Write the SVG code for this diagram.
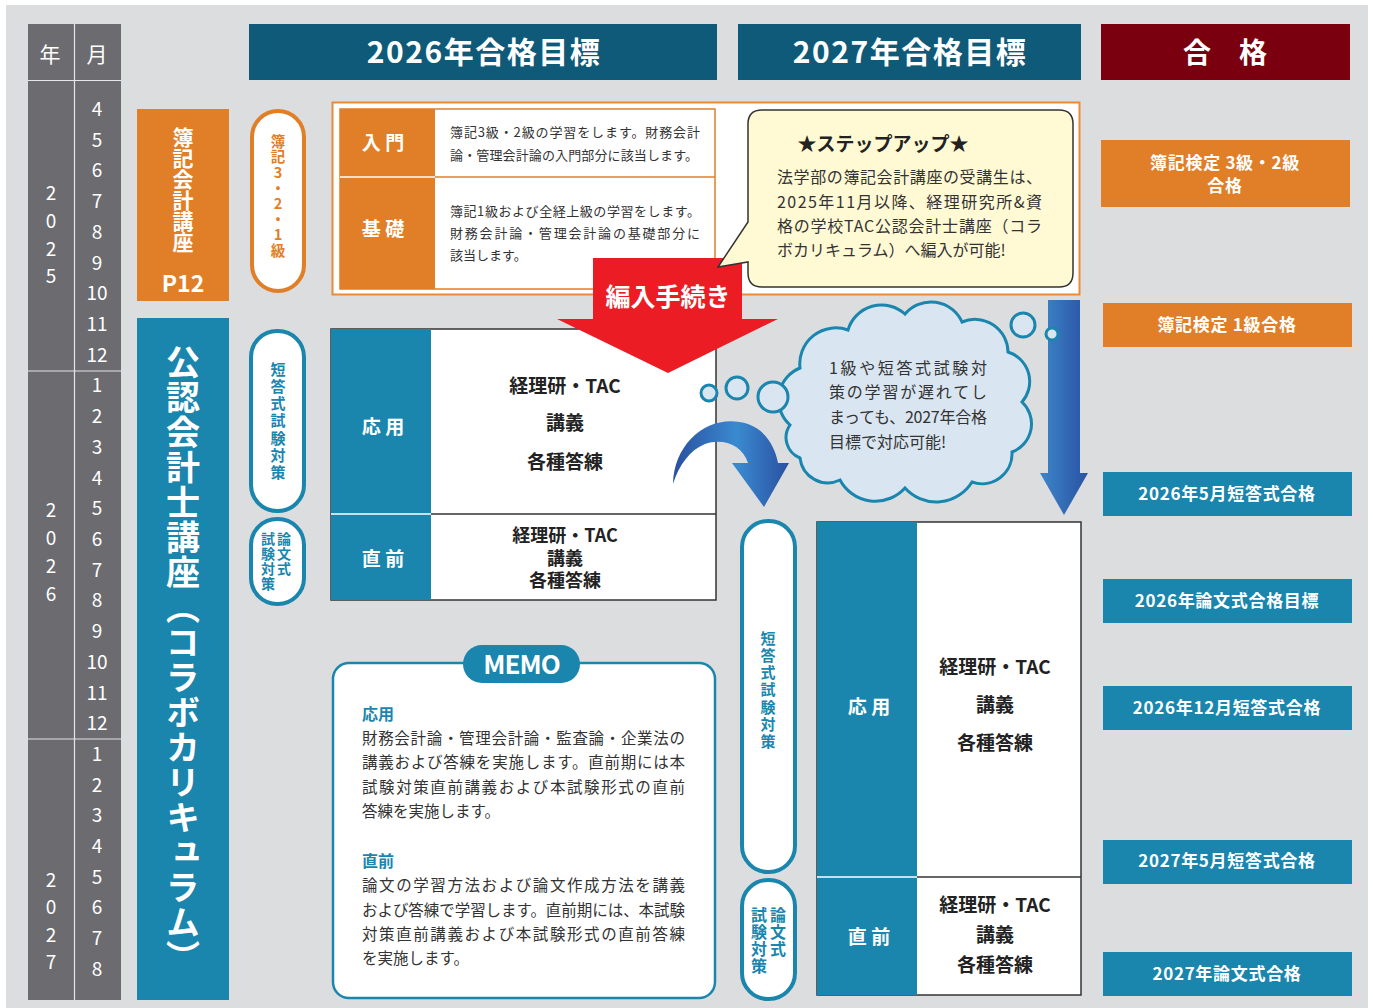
<svg xmlns="http://www.w3.org/2000/svg" width="1373" height="1008" viewBox="0 0 1373 1008">
<style>
text{font-family:"Noto Sans CJK JP","Noto Sans",sans-serif;}
.mo{fill:#fff;font-size:19px;text-anchor:middle}
.hdr{fill:#fff;font-weight:bold;font-size:30px;text-anchor:middle;letter-spacing:1.5px}
.res{fill:#fff;font-weight:bold;font-size:17px;text-anchor:middle;letter-spacing:0.7px}
.cell{fill:#222;font-weight:bold;font-size:19px;text-anchor:middle}
.lab{fill:#fff;font-weight:bold;font-size:19px;text-anchor:middle}
.vt{writing-mode:vertical-rl;text-orientation:upright}
.bt{fill:#333;font-size:16px}
.it{fill:#333;font-size:13px}
.mt{fill:#333;font-size:15.5px}
.blue{fill:#1a86ae}
.pillO{fill:#fff;stroke:#e07f27;stroke-width:4}
.pillB{fill:#fff;stroke:#1a86ae;stroke-width:4}
.pv{fill:#1a86ae;font-weight:bold;text-anchor:start}
.cellbox{fill:#fff;stroke:#333;stroke-width:1.5}
.cloud{fill:#d9e6f1;stroke:#1a86ae;stroke-width:3}
</style>
<defs>
<linearGradient id="gArrow" x1="0" y1="0" x2="1" y2="0">
<stop offset="0" stop-color="#3d86c8"/>
<stop offset="1" stop-color="#2a52a3"/>
</linearGradient>
<linearGradient id="gCurve" x1="0" y1="0" x2="1" y2="0">
<stop offset="0" stop-color="#2a4f9f"/>
<stop offset="0.55" stop-color="#3a8ad0"/>
<stop offset="1" stop-color="#2a50a1"/>
</linearGradient>
</defs>

<rect x="0" y="0" width="1373" height="1008" fill="#fff"/>
<rect x="6" y="5" width="1362" height="1003" fill="#dcdddf"/>

<g id="timeline">
<rect x="28" y="24" width="93" height="976" fill="#6b6b70"/>
<line x1="74.5" y1="24" x2="74.5" y2="1000" stroke="#e6e6e6" stroke-width="1.2"/>
<line x1="28" y1="80.5" x2="121" y2="80.5" stroke="#e6e6e6" stroke-width="1.2"/>
<line x1="28" y1="371" x2="121" y2="371" stroke="#e6e6e6" stroke-width="1.2"/>
<line x1="28" y1="739" x2="121" y2="739" stroke="#e6e6e6" stroke-width="1.2"/>
<text class="mo" x="50" y="62" style="font-size:21px">年</text>
<text class="mo" x="97" y="62" style="font-size:21px">月</text>
<text class="mo" x="51" y="200">2</text><text class="mo" x="51" y="228">0</text><text class="mo" x="51" y="256">2</text><text class="mo" x="51" y="283">5</text>
<text class="mo" x="51" y="517">2</text><text class="mo" x="51" y="545">0</text><text class="mo" x="51" y="573">2</text><text class="mo" x="51" y="601">6</text>
<text class="mo" x="51" y="887">2</text><text class="mo" x="51" y="914">0</text><text class="mo" x="51" y="942">2</text><text class="mo" x="51" y="969">7</text>
<text class="mo" x="97" y="116">4</text><text class="mo" x="97" y="147">5</text><text class="mo" x="97" y="177">6</text><text class="mo" x="97" y="208">7</text><text class="mo" x="97" y="239">8</text><text class="mo" x="97" y="270">9</text><text class="mo" x="97" y="300">10</text><text class="mo" x="97" y="331">11</text><text class="mo" x="97" y="362">12</text>
<text class="mo" x="97" y="392">1</text><text class="mo" x="97" y="423">2</text><text class="mo" x="97" y="454">3</text><text class="mo" x="97" y="485">4</text><text class="mo" x="97" y="515">5</text><text class="mo" x="97" y="546">6</text><text class="mo" x="97" y="577">7</text><text class="mo" x="97" y="607">8</text><text class="mo" x="97" y="638">9</text><text class="mo" x="97" y="669">10</text><text class="mo" x="97" y="700">11</text><text class="mo" x="97" y="730">12</text>
<text class="mo" x="97" y="761">1</text><text class="mo" x="97" y="792">2</text><text class="mo" x="97" y="822">3</text><text class="mo" x="97" y="853">4</text><text class="mo" x="97" y="884">5</text><text class="mo" x="97" y="914">6</text><text class="mo" x="97" y="945">7</text><text class="mo" x="97" y="976">8</text>
</g>

<g id="header-2026"><rect x="249" y="24" width="468" height="56" fill="#0e5a78"/><text class="hdr" x="484" y="63">2026年合格目標</text></g>
<g id="header-2027"><rect x="738" y="24" width="343" height="56" fill="#0e5a78"/><text class="hdr" x="910" y="63">2027年合格目標</text></g>
<g id="header-pass"><rect x="1101" y="24" width="249" height="56" fill="#7a0010"/><text class="hdr" x="1225" y="63" style="font-size:28px;letter-spacing:0">合　格</text></g>

<g id="boki-course">
<rect x="137" y="109" width="92" height="192" fill="#e07f27"/>
<text class="vt" x="183" y="127" fill="#fff" font-weight="bold" font-size="21">簿記会計講座</text>
<text x="183" y="292" fill="#fff" font-weight="bold" font-size="23" text-anchor="middle">P12</text>
</g>

<g id="cpa-course">
<rect x="137" y="318" width="92" height="682" fill="#1a86ae"/>
<text x="183" y="345" fill="#fff" font-weight="bold" font-size="34" style="writing-mode:vertical-rl" letter-spacing="1">公認会計士講座（コラボカリキュラム）</text>
</g>

<g id="pill-boki">
<rect class="pillO" x="252" y="111" width="52" height="180" rx="26"/>
<text class="vt" x="278" y="134" fill="#e07f27" font-weight="bold" font-size="14.5" letter-spacing="1.1">簿記3・2・1級</text>
</g>
<g id="pill-short-2026">
<rect class="pillB" x="251" y="331" width="53" height="180" rx="26"/>
<text class="vt pv" x="278" y="362" font-size="15" letter-spacing="2.1">短答式試験対策</text>
</g>
<g id="pill-essay-2026">
<rect class="pillB" x="251" y="519" width="53" height="85" rx="26"/>
<text class="vt pv" x="284" y="532" font-size="14" letter-spacing="1">論文式</text>
<text class="vt pv" x="268" y="532" font-size="14" letter-spacing="1">試験対策</text>
</g>
<g id="pill-short-2027">
<rect class="pillB" x="742" y="521" width="53" height="351" rx="26"/>
<text class="vt pv" x="768" y="631" font-size="15" letter-spacing="2.1">短答式試験対策</text>
</g>
<g id="pill-essay-2027">
<rect class="pillB" x="742" y="880" width="53" height="119" rx="26"/>
<text class="vt pv" x="778" y="907" font-size="16" letter-spacing="1">論文式</text>
<text class="vt pv" x="759" y="907" font-size="16" letter-spacing="1">試験対策</text>
</g>

<g id="intro-frame">
<rect x="332.5" y="102.5" width="747" height="192" fill="#fff" stroke="#e9893a" stroke-width="2"/>
<rect x="340" y="109" width="375" height="180" fill="#fff" stroke="#e07f27" stroke-width="1.5"/>
<rect x="340" y="109" width="95" height="180" fill="#e07f27"/>
<line x1="435" y1="177" x2="715" y2="177" stroke="#e07f27" stroke-width="1.5"/>
<line x1="340" y1="177" x2="435" y2="177" stroke="#fff" stroke-width="1.5"/>
<text class="lab" x="383" y="150" font-size="18">入 門</text>
<text class="lab" x="383" y="236" font-size="18">基 礎</text>
<text class="it" x="450" y="137" textLength="250">簿記3級・2級の学習をします。財務会計</text>
<text class="it" x="450" y="160" textLength="248">論・管理会計論の入門部分に該当します。</text>
<text class="it" x="450" y="216" textLength="250">簿記1級および全経上級の学習をします。</text>
<text class="it" x="450" y="238" textLength="250">財務会計論・管理会計論の基礎部分に</text>
<text class="it" x="450" y="260">該当します。</text>
</g>

<g id="apply-2026">
<rect class="cellbox" x="331" y="329" width="385" height="271"/>
<rect x="331" y="329" width="100" height="271" fill="#1a86ae"/>
<line x1="431" y1="514" x2="716" y2="514" stroke="#333" stroke-width="1.5"/>
<line x1="331" y1="514" x2="431" y2="514" stroke="#fff" stroke-width="1.5"/>
<text class="lab" x="383" y="434">応 用</text>
<text class="cell" x="565" y="393">経理研・TAC</text>
<text class="cell" x="565" y="430">講義</text>
<text class="cell" x="565" y="469">各種答練</text>
<text class="lab" x="383" y="566">直 前</text>
<text class="cell" x="565" y="542" style="font-size:18px">経理研・TAC</text>
<text class="cell" x="565" y="564.5" style="font-size:18px">講義</text>
<text class="cell" x="565" y="587" style="font-size:18px">各種答練</text>
</g>

<g id="apply-2027">
<rect class="cellbox" x="817" y="522" width="264" height="473"/>
<rect x="817" y="522" width="100" height="473" fill="#1a86ae"/>
<line x1="917" y1="877" x2="1081" y2="877" stroke="#333" stroke-width="1.5"/>
<line x1="817" y1="877" x2="917" y2="877" stroke="#fff" stroke-width="1.5"/>
<text class="lab" x="869" y="714">応 用</text>
<text class="cell" x="995" y="674">経理研・TAC</text>
<text class="cell" x="995" y="712">講義</text>
<text class="cell" x="995" y="750">各種答練</text>
<text class="lab" x="869" y="944">直 前</text>
<text class="cell" x="995" y="912">経理研・TAC</text>
<text class="cell" x="995" y="942">講義</text>
<text class="cell" x="995" y="972">各種答練</text>
</g>

<g id="memo">
<rect x="333" y="663" width="382" height="335" rx="16" fill="#fff" stroke="#1a86ae" stroke-width="2.5"/>
<rect x="463" y="645" width="117" height="38" rx="19" fill="#1a86ae"/>
<text x="521.5" y="674" fill="#fff" font-weight="bold" font-size="26" text-anchor="middle" letter-spacing="-1">MEMO</text>
<text x="362" y="720" class="blue" font-weight="bold" font-size="16">応用</text>
<text class="mt" x="362" y="744" textLength="323">財務会計論・管理会計論・監査論・企業法の</text>
<text class="mt" x="362" y="768" textLength="323">講義および答練を実施します。直前期には本</text>
<text class="mt" x="362" y="793" textLength="323">試験対策直前講義および本試験形式の直前</text>
<text class="mt" x="362" y="817">答練を実施します。</text>
<text x="362" y="867" class="blue" font-weight="bold" font-size="16">直前</text>
<text class="mt" x="362" y="891" textLength="323">論文の学習方法および論文作成方法を講義</text>
<text class="mt" x="362" y="916" textLength="323">および答練で学習します。直前期には、本試験</text>
<text class="mt" x="362" y="940" textLength="323">対策直前講義および本試験形式の直前答練</text>
<text class="mt" x="362" y="964">を実施します。</text>
</g>

<g id="connectors">
<path d="M593,258 L742,258 L742,319 L778,319 L668,373 L557,319 L593,319 Z" fill="#ec1c24"/>
<text x="668" y="306" fill="#fff" font-weight="bold" font-size="25" text-anchor="middle">編入手続き</text>
<path d="M673,484 C674,440 712,412 748,424 C765,430 775,446 778,463 L789,463 L764,507 L732,463 L748,463 C742,444 722,438 705,444 C690,450 679,465 673,484 Z" fill="url(#gCurve)"/>
<path d="M1048,300 H1080 V473 H1088 L1064,515 L1040,473 H1048 Z" fill="url(#gArrow)"/>
</g>

<g id="stepup">
<path d="M762,110 H1059 Q1073,110 1073,124 V273 Q1073,287 1059,287 H762 Q748,287 748,273 V262 L718,267 L748,222 V124 Q748,110 762,110 Z" fill="#fff9d4" stroke="#333" stroke-width="1.5"/>
<text x="883" y="151" fill="#222" font-weight="bold" font-size="19" text-anchor="middle">★ステップアップ★</text>
<text class="bt" x="777" y="183" textLength="265">法学部の簿記会計講座の受講生は、</text>
<text class="bt" x="777" y="208" textLength="265">2025年11月以降、経理研究所&amp;資</text>
<text class="bt" x="777" y="232" textLength="265">格の学校TAC公認会計士講座（コラ</text>
<text class="bt" x="777" y="256">ボカリキュラム）へ編入が可能!</text>
</g>

<g id="cloud">
<path class="cloud" d="M790,425 A34,34 0 0 1 800,368 A36,36 0 0 1 848,330 A35,35 0 0 1 905,314 A34,34 0 0 1 962,322 A33,33 0 0 1 1008,352 A31,31 0 0 1 1022,402 A30,30 0 0 1 1012,452 A30,30 0 0 1 972,482 A42,42 0 0 1 905,488 A40,40 0 0 1 840,480 A28,28 0 0 1 800,458 A22,22 0 0 1 790,425 Z"/>
<circle class="cloud" cx="773" cy="397" r="15"/>
<circle class="cloud" cx="737" cy="388" r="11"/>
<circle class="cloud" cx="709" cy="393" r="8"/>
<circle class="cloud" cx="1023" cy="325" r="12"/>
<circle class="cloud" cx="1052" cy="334" r="6"/>
<text class="bt" x="829" y="374" textLength="158">1級や短答式試験対</text>
<text class="bt" x="829" y="398" textLength="158">策の学習が遅れてし</text>
<text class="bt" x="829" y="423" textLength="158">まっても、2027年合格</text>
<text class="bt" x="829" y="448">目標で対応可能!</text>
</g>

<g id="pass-boki32"><rect x="1101" y="140" width="249" height="67" fill="#e07f27"/><text class="res" x="1225" y="169">簿記検定 3級・2級</text><text class="res" x="1225" y="192">合格</text></g>
<g id="pass-boki1"><rect x="1103" y="303" width="249" height="44" fill="#e07f27"/><text class="res" x="1227" y="331">簿記検定 1級合格</text></g>
<g id="pass-2026-5"><rect x="1103" y="472" width="249" height="44" fill="#1a86ae"/><text class="res" x="1227" y="500">2026年5月短答式合格</text></g>
<g id="pass-2026-essay"><rect x="1103" y="579" width="249" height="44" fill="#1a86ae"/><text class="res" x="1227" y="607">2026年論文式合格目標</text></g>
<g id="pass-2026-12"><rect x="1103" y="686" width="249" height="44" fill="#1a86ae"/><text class="res" x="1227" y="714">2026年12月短答式合格</text></g>
<g id="pass-2027-5"><rect x="1103" y="840" width="249" height="44" fill="#1a86ae"/><text class="res" x="1227" y="867">2027年5月短答式合格</text></g>
<g id="pass-2027-essay"><rect x="1103" y="952" width="249" height="44" fill="#1a86ae"/><text class="res" x="1227" y="980">2027年論文式合格</text></g>
</svg>
